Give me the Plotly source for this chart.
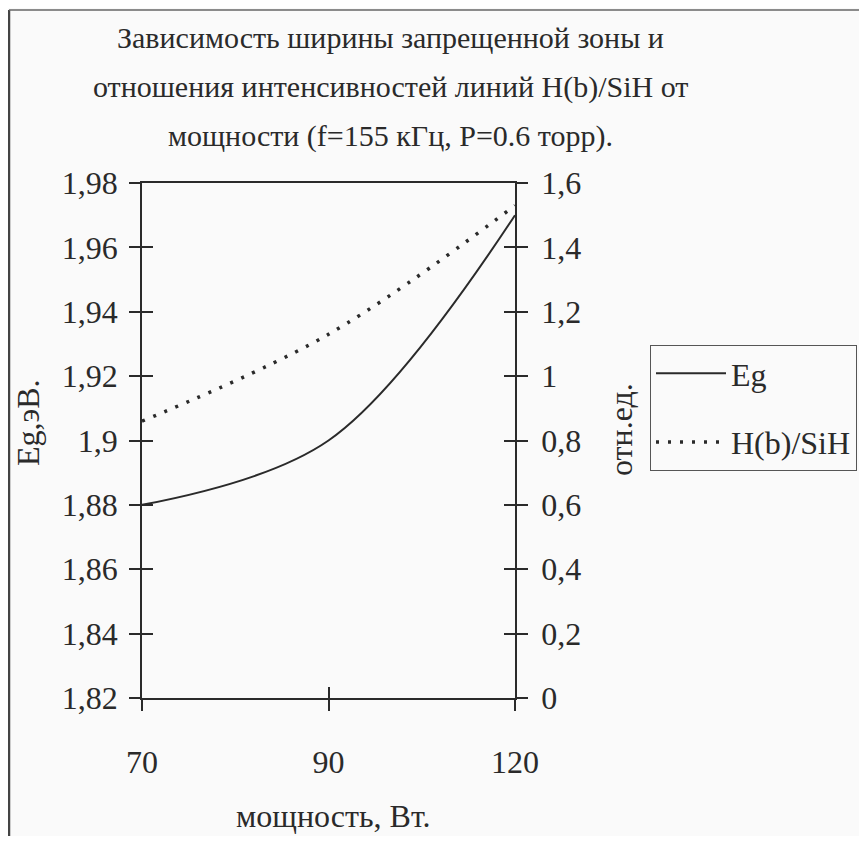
import plotly.graph_objects as go

# ---- data ----
power = ["70", "90", "120"]
eg = [1.88, 1.90, 1.97]
hb_sih = [0.86, 1.13, 1.53]

left_ticks = [1.82, 1.84, 1.86, 1.88, 1.90, 1.92, 1.94, 1.96, 1.98]
left_labels = ["1,82", "1,84", "1,86", "1,88", "1,9", "1,92", "1,94", "1,96", "1,98"]
right_ticks = [0, 0.2, 0.4, 0.6, 0.8, 1.0, 1.2, 1.4, 1.6]
right_labels = ["0", "0,2", "0,4", "0,6", "0,8", "1", "1,2", "1,4", "1,6"]

title_lines = [
    "Зависимость ширины запрещенной зоны и",
    "отношения интенсивностей линий H(b)/SiH от",
    "мощности (f=155 кГц, P=0.6 торр).",
]

FONT = "Liberation Serif"
INK = "#2a2a2a"
BG = "#fafafa"

# the page has an 8px body margin: figure origin sits at page (8, 8)
OFF = 8
W, H = 867 - 2 * OFF, 844 - 2 * OFF
# plot area in page pixels
L, R, T, B = 142, 515, 183, 698


def px(x):
    return (x - L) / (R - L)


def py(y):
    return (B - y) / (B - T)


fig = go.Figure()

fig.add_trace(go.Scatter(
    x=power, y=eg, name="Eg", mode="lines",
    line=dict(color=INK, width=2, shape="spline", smoothing=1.0),
    xaxis="x", yaxis="y", legendgroup="a", hoverinfo="skip",
))
fig.add_trace(go.Scatter(
    x=power, y=hb_sih, name="H(b)/SiH", mode="lines",
    line=dict(color=INK, width=3.5, shape="spline", smoothing=1.0, dash="3px,9px"),
    xaxis="x", yaxis="y2", legendgroup="b", hoverinfo="skip",
))
# invisible carriers for the inner half of the crossing tick marks
fig.add_trace(go.Scatter(x=power, y=eg, mode="lines", opacity=0, showlegend=False,
                         hoverinfo="skip", xaxis="x2", yaxis="y3"))
fig.add_trace(go.Scatter(x=power, y=hb_sih, mode="lines", opacity=0, showlegend=False,
                         hoverinfo="skip", xaxis="x2", yaxis="y4"))

tickfont = dict(family=FONT, size=32, color=INK)

fig.update_layout(
    width=W, height=H,
    margin=dict(l=L - OFF, r=W - (R - OFF), t=T - OFF, b=H - (B - OFF), pad=0,
                autoexpand=False),
    paper_bgcolor=BG, plot_bgcolor=BG,
    showlegend=True,
    xaxis=dict(
        type="category", range=[0, 2], tickmode="array", tickvals=power, ticktext=power,
        showline=True, linecolor=INK, linewidth=1.5, mirror=True,
        ticks="outside", ticklen=11, tickwidth=1.5, tickcolor=INK,
        showgrid=False, zeroline=False, tickfont=tickfont, ticklabelstandoff=24,
    ),
    xaxis2=dict(
        type="category", range=[0, 2], tickmode="array", tickvals=power,
        overlaying="x", showticklabels=False, showline=False,
        ticks="inside", ticklen=11, tickwidth=1.5, tickcolor=INK,
        showgrid=False, zeroline=False,
    ),
    yaxis=dict(
        range=[1.82, 1.98], tickmode="array", tickvals=left_ticks, ticktext=left_labels,
        showline=True, linecolor=INK, linewidth=1.5,
        ticks="outside", ticklen=11, tickwidth=1.5, tickcolor=INK,
        showgrid=False, zeroline=False, tickfont=tickfont, ticklabelstandoff=5,
    ),
    yaxis2=dict(
        range=[0, 1.6], tickmode="array", tickvals=right_ticks, ticktext=right_labels,
        overlaying="y", side="right", anchor="x",
        showline=True, linecolor=INK, linewidth=1.5,
        ticks="outside", ticklen=11, tickwidth=1.5, tickcolor=INK,
        showgrid=False, zeroline=False, tickfont=tickfont, ticklabelstandoff=7,
    ),
    yaxis3=dict(
        range=[1.82, 1.98], tickmode="array", tickvals=left_ticks,
        overlaying="y", side="left", anchor="x2", showticklabels=False, showline=False,
        ticks="inside", ticklen=11, tickwidth=1.5, tickcolor=INK,
        showgrid=False, zeroline=False,
    ),
    yaxis4=dict(
        range=[0, 1.6], tickmode="array", tickvals=right_ticks,
        overlaying="y", side="right", anchor="x2", showticklabels=False, showline=False,
        ticks="inside", ticklen=11, tickwidth=1.5, tickcolor=INK,
        showgrid=False, zeroline=False,
    ),
    legend=dict(
        x=px(650), y=py(345), xanchor="left", yanchor="top",
        bgcolor=BG, bordercolor="#555", borderwidth=1,
        font=dict(family=FONT, size=32, color=INK),
        tracegroupgap=24, itemwidth=70,
    ),
)

annotations = []
for line, yc in zip(title_lines, [37, 87, 136]):
    annotations.append(dict(
        text=line, xref="paper", yref="paper", x=px(390), y=py(yc),
        xanchor="center", yanchor="middle", showarrow=False,
        font=dict(family=FONT, size=30, color=INK),
    ))
annotations.append(dict(
    text="Eg,эВ.", xref="paper", yref="paper", x=px(28), y=py(423),
    xanchor="center", yanchor="middle", showarrow=False, textangle=-90,
    font=dict(family=FONT, size=32, color=INK),
))
annotations.append(dict(
    text="отн.ед.", xref="paper", yref="paper", x=px(621), y=py(430),
    xanchor="center", yanchor="middle", showarrow=False, textangle=-90,
    font=dict(family=FONT, size=32, color=INK),
))
annotations.append(dict(
    text="мощность, Вт.", xref="paper", yref="paper", x=px(333), y=py(816),
    xanchor="center", yanchor="middle", showarrow=False,
    font=dict(family=FONT, size=32, color=INK),
))
fig.update_layout(annotations=annotations)

# page frame of the scanned figure (left and top edges)
fig.add_shape(type="line", xref="paper", yref="paper",
              x0=px(9), x1=px(9), y0=py(844), y1=py(10),
              line=dict(color="#444", width=2.5), layer="below")
fig.add_shape(type="line", xref="paper", yref="paper",
              x0=px(9), x1=px(867), y0=py(10), y1=py(10),
              line=dict(color="#666", width=1.5), layer="below")

fig.write_html("out.html")
